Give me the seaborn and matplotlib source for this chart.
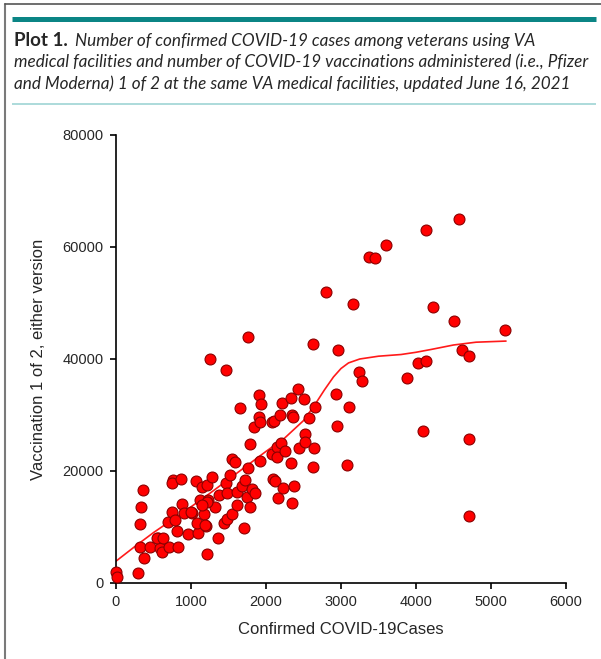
import numpy as np
import pandas as pd
import matplotlib
matplotlib.use("Agg")
import matplotlib.pyplot as plt
from matplotlib.lines import Line2D
import seaborn as sns

# confirmed cases per facility (x) and first-dose vaccinations (y)
cases = [0, 15, 290, 370, 320, 450, 560, 590, 615, 320, 335, 360, 690, 705, 745, 760,
         745, 865, 810, 825, 880, 905, 960, 1010, 1065, 1095, 1080, 1120, 1145, 1175,
         1200, 1215, 1215, 1280, 1230, 1320, 1360, 1375, 1440, 1465, 1480, 1480, 1520,
         1545, 1545, 1590, 1610, 1615, 1650, 1680, 1705, 1745, 1720, 1760, 1785, 1790,
         1815, 1840, 1855, 1905, 1930, 1905, 1920, 1920, 2080, 2100, 2080, 2090, 2120,
         2145, 2150, 2185, 2200, 2160, 2215, 2225, 2255, 2335, 2345, 2360, 2335, 2345,
         2375, 2425, 2440, 2505, 2520, 2520, 2575, 2640, 2625, 2655, 2935, 2945, 3075,
         3100, 1255, 1470, 1760, 2625, 2960, 3240, 3280, 2800, 3160, 3375, 3450, 3600,
         4130, 4570, 4220, 4500, 5190, 4610, 4700, 4030, 4130, 3880, 4090, 4700, 4700,
         785, 545, 625, 1190, 1210, 1150, 1000]
vaccinations = [2000, 1100, 1800, 4400, 6400, 6400, 8000, 6200, 5500, 10500, 13600, 16600,
                10900, 6400, 12700, 18400, 17900, 18600, 9300, 6400, 14100, 12500, 8800,
                12500, 18200, 8900, 10700, 14800, 17100, 12300, 10200, 5200, 17500, 18900,
                14800, 13600, 8000, 15700, 10700, 17900, 11400, 16100, 19300, 12300, 22100,
                21600, 16200, 13900, 31200, 17300, 9800, 15400, 18400, 20500, 13600, 24800,
                16800, 27900, 16100, 33600, 32000, 29600, 28800, 21800, 28800, 28900, 23000,
                18600, 18200, 24300, 22500, 30000, 25000, 15200, 32100, 17000, 23600, 33000,
                30000, 29600, 21400, 14300, 17300, 34600, 24100, 32900, 26600, 25200, 29500,
                24100, 20700, 31400, 33800, 28000, 21000, 31400, 40000, 38100, 44000, 42700,
                41600, 37700, 36100, 52000, 49800, 58300, 58000, 60300, 63000, 65000, 49300,
                46800, 45200, 41600, 40500, 39300, 39700, 36600, 27100, 25700, 12000,
                11200, 8000, 8000, 10400, 14500, 13900, 12700]

# smoothed trend line
trend_x = [0, 250, 500, 750, 1000, 1250, 1500, 1750, 2000, 2250, 2500, 2650, 2780, 2900,
           3000, 3100, 3250, 3500, 3800, 4000, 4200, 4500, 4800, 5200]
trend_y = [3900, 6500, 9000, 11300, 13600, 16000, 18500, 21000, 23500, 25900, 29000, 31800,
           34500, 36800, 38300, 39300, 40000, 40500, 40800, 41200, 41700, 42500, 43000, 43200]

x_ticks = [0, 1000, 2000, 3000, 4000, 5000, 6000]
y_ticks = [0, 20000, 40000, 60000, 80000]

df = pd.DataFrame({"cases": cases, "vacc": vaccinations})
trend = pd.DataFrame({"x": trend_x, "y": trend_y})

sns.set_style("ticks")
plt.rcParams["font.family"] = ["Liberation Sans", "DejaVu Sans"]

fig = plt.figure(figsize=(6.01, 6.59), dpi=100)
ax = fig.add_axes([116 / 601, 1 - 583 / 659, 450 / 601, 448 / 659])

sns.lineplot(data=trend, x="x", y="y", ax=ax, color="#ff1a1a", lw=1.2, zorder=2)
sns.scatterplot(data=df, x="cases", y="vacc", ax=ax, color="#ff0000", edgecolor="#8a0000",
                linewidth=0.8, s=62, zorder=3, clip_on=False)

ax.set_xlim(0, 6000)
ax.set_ylim(0, 80000)
ax.set_xticks(x_ticks)
ax.set_yticks(y_ticks)
ax.tick_params(axis="both", labelsize=10.5, length=4, width=1.2, color="black", pad=5)
for s in ["left", "bottom"]:
    ax.spines[s].set_linewidth(1.2)
    ax.spines[s].set_color("black")
sns.despine(ax=ax)
ax.set_xlabel("Confirmed COVID-19Cases", fontsize=12, labelpad=9)
ax.set_ylabel("Vaccination 1 of 2, either version", fontsize=12, labelpad=12)

# page frame and header
fig.add_artist(Line2D([4.5 / 601, 4.5 / 601], [0, 1 - 4 / 659], color="#7a7a7a", lw=1.5))
fig.add_artist(Line2D([4.5 / 601, 1], [1 - 4 / 659, 1 - 4 / 659], color="#555555", lw=1.2))
fig.add_artist(Line2D([12 / 601, 596 / 601], [1 - 18.5 / 659, 1 - 18.5 / 659],
                      color="#0b8585", lw=3.6, solid_capstyle="butt"))
fig.add_artist(Line2D([12 / 601, 596 / 601], [1 - 104 / 659, 1 - 104 / 659],
                      color="#a6d8d8", lw=1.3, solid_capstyle="butt"))

tfont = ["Lato", "DejaVu Sans"]
fig.text(14 / 601, 1 - 46 / 659, "Plot 1.", fontsize=13.5, fontweight="bold",
         family=tfont, va="baseline")
fig.text(75 / 601, 1 - 46 / 659, "Number of confirmed COVID-19 cases among veterans using VA",
         fontsize=12.3, style="italic", family=tfont, va="baseline")
fig.text(14 / 601, 1 - 67 / 659,
         "medical facilities and number of COVID-19 vaccinations administered (i.e., Pfizer",
         fontsize=12.3, style="italic", family=tfont, va="baseline")
fig.text(14 / 601, 1 - 89 / 659,
         "and Moderna) 1 of 2 at the same VA medical facilities, updated June 16, 2021",
         fontsize=12.3, style="italic", family=tfont, va="baseline")

fig.savefig("out.png", dpi=100)
